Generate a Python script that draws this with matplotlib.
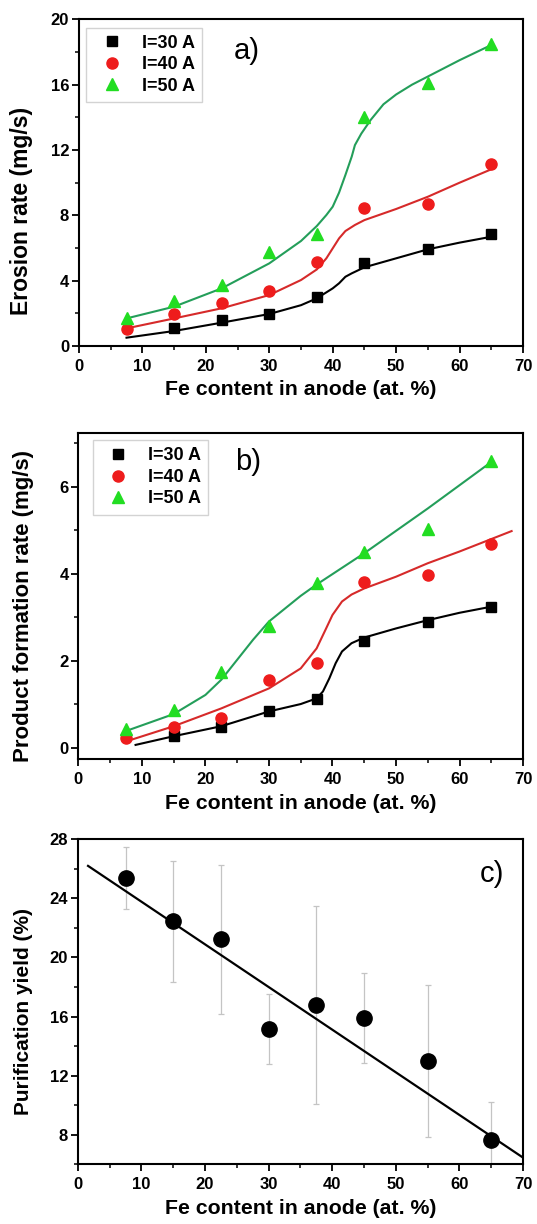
import numpy as np
import matplotlib
matplotlib.use("Agg")
import matplotlib.pyplot as plt
from matplotlib.ticker import MultipleLocator

plt.rcParams['font.family'] = ['Liberation Sans', 'DejaVu Sans']
plt.rcParams['font.weight'] = 'bold'

# Fe content (at. %)
fe = [7.5, 15, 22.5, 30, 37.5, 45, 55, 65]
fe_30 = [15, 22.5, 30, 37.5, 45, 55, 65]

# a) erosion rate (mg/s)
er_30 = [1.08, 1.59, 1.94, 2.98, 5.06, 5.92, 6.86]
er_40 = [1.02, 1.94, 2.61, 3.39, 5.16, 8.43, 8.67, 11.14]
er_50 = [1.69, 2.76, 3.73, 5.78, 6.86, 14.0, 16.12, 18.49]

# a) fitted curves
ca_x30 = [7.5, 15, 22.5, 30, 35, 37.5, 40, 41, 42, 43, 45, 50, 55, 60, 65]
ca_y30 = [0.51, 0.92, 1.43, 1.96, 2.5, 2.92, 3.53, 3.84, 4.24, 4.45, 4.82, 5.37, 5.92, 6.33, 6.69]
ca_x40 = [7.5, 15, 22.5, 30, 35, 37.5, 39, 40, 41, 42, 43.5, 45, 50, 55, 60, 65]
ca_y40 = [1.08, 1.69, 2.31, 3.12, 4.04, 4.69, 5.37, 5.98, 6.59, 7.04, 7.41, 7.71, 8.39, 9.14, 10.0, 10.82]
ca_x50 = [7.5, 15, 22.5, 30, 35, 37.5, 39, 40, 41, 42, 43, 43.5, 44.5, 46, 48, 50, 52.5, 55, 60, 65]
ca_y50 = [1.69, 2.41, 3.53, 5.06, 6.43, 7.35, 8.02, 8.53, 9.39, 10.47, 11.6, 12.3, 13.0, 13.85, 14.8, 15.4, 16.0, 16.5, 17.5, 18.43]

# b) product formation rate (mg/s)
pf_30 = [0.27, 0.48, 0.85, 1.12, 2.45, 2.89, 3.23]
pf_40 = [0.21, 0.48, 0.67, 1.56, 1.95, 3.80, 3.98, 4.69]
pf_50 = [0.42, 0.87, 1.73, 2.80, 3.78, 4.49, 5.03, 6.59]

cb_x30 = [9.0, 15, 22.5, 30, 35, 37.5, 38.5, 39.5, 40.5, 41.5, 43, 45, 50, 55, 60, 65]
cb_y30 = [0.06, 0.26, 0.49, 0.83, 1.0, 1.13, 1.29, 1.59, 1.94, 2.21, 2.40, 2.53, 2.74, 2.93, 3.10, 3.24]
cb_x40 = [7.5, 15, 22.5, 30, 35, 37.5, 39, 40, 41.5, 43, 45, 50, 55, 60, 68.2]
cb_y40 = [0.14, 0.49, 0.90, 1.36, 1.82, 2.28, 2.74, 3.05, 3.36, 3.52, 3.66, 3.93, 4.24, 4.51, 4.98]
cb_x50 = [7.5, 15, 20, 22.5, 25, 27.5, 30, 35, 37.5, 45, 55, 65]
cb_y50 = [0.38, 0.77, 1.21, 1.56, 2.02, 2.48, 2.90, 3.49, 3.75, 4.47, 5.50, 6.57]

# c) purification yield (%)
py = [25.38, 22.46, 21.23, 15.13, 16.81, 15.91, 12.98, 7.62]
py_err = [2.13, 4.1, 5.05, 2.37, 6.7, 3.03, 5.15, 2.58]
fit_x = [1.6, 70]
fit_y = [26.2, 6.45]

labels = ['I=30 A', 'I=40 A', 'I=50 A']
red = '#ee1c1c'
green_m = '#22dd22'
green_l = '#249e5a'
red_l = '#d62a2a'

fig = plt.figure(figsize=(5.37, 12.24), dpi=100)
ax_a = fig.add_axes([0.147, 0.7173, 0.827, 0.2669])
ax_b = fig.add_axes([0.146, 0.3797, 0.828, 0.2663])
ax_c = fig.add_axes([0.145, 0.0488, 0.829, 0.2655])


def style(ax, ymaj, ymin):
    ax.set_xlim(0, 70)
    ax.xaxis.set_major_locator(MultipleLocator(10))
    ax.xaxis.set_minor_locator(MultipleLocator(5))
    ax.yaxis.set_major_locator(MultipleLocator(ymaj))
    ax.yaxis.set_minor_locator(MultipleLocator(ymin))
    ax.tick_params(which='major', direction='out', length=5, width=1.3, labelsize=12)
    ax.tick_params(axis='x', which='major', pad=4)
    ax.tick_params(axis='y', which='major', pad=2)
    ax.tick_params(which='minor', direction='out', length=3, width=1.1)
    for s in ax.spines.values():
        s.set_linewidth(1.5)
    for t in ax.get_xticklabels() + ax.get_yticklabels():
        t.set_fontweight('bold')
    ax.set_xlabel('Fe content in anode (at. %)', fontsize=15.3, fontweight='bold', labelpad=5)


def legend(ax, loc):
    leg = ax.legend(loc='upper left', bbox_to_anchor=loc, frameon=True, fancybox=False,
                    edgecolor='#c8c8c8', fontsize=13, handletextpad=0.65, borderpad=0.4,
                    labelspacing=0.25, handlelength=2.0, borderaxespad=0)
    leg.get_frame().set_linewidth(1.0)
    for t in leg.get_texts():
        t.set_fontweight('bold')


# a)
ax_a.plot(ca_x30, ca_y30, color='black', lw=1.5)
ax_a.plot(ca_x40, ca_y40, color=red_l, lw=1.5)
ax_a.plot(ca_x50, ca_y50, color=green_l, lw=1.5)
ax_a.plot(fe_30, er_30, 's', color='black', ms=7, label=labels[0])
ax_a.plot(fe, er_40, 'o', color=red, ms=8, label=labels[1])
ax_a.plot(fe, er_50, '^', color=green_m, ms=9, label=labels[2])
ax_a.set_ylim(0, 20)
style(ax_a, 4, 2)
ax_a.set_ylabel('Erosion rate (mg/s)', fontsize=16.5, fontweight='bold')
ax_a.yaxis.set_label_coords(-0.104, 0.413)
legend(ax_a, (0.017, 0.975))
ax_a.text(0.377, 0.904, 'a)', transform=ax_a.transAxes, fontsize=21, fontweight='normal',
          ha='center', va='center')

# b)
ax_b.plot(cb_x30, cb_y30, color='black', lw=1.5)
ax_b.plot(cb_x40, cb_y40, color=red_l, lw=1.5)
ax_b.plot(cb_x50, cb_y50, color=green_l, lw=1.5)
ax_b.plot(fe_30, pf_30, 's', color='black', ms=7, label=labels[0])
ax_b.plot(fe, pf_40, 'o', color=red, ms=8, label=labels[1])
ax_b.plot(fe, pf_50, '^', color=green_m, ms=9, label=labels[2])
ax_b.set_ylim(-0.27, 7.23)
style(ax_b, 2, 1)
ax_b.set_ylabel('Product formation rate (mg/s)', fontsize=16, fontweight='bold')
ax_b.yaxis.set_label_coords(-0.10, 0.47)
legend(ax_b, (0.032, 0.979))
ax_b.text(0.382, 0.913, 'b)', transform=ax_b.transAxes, fontsize=21, fontweight='normal',
          ha='center', va='center')

# c)
ax_c.errorbar(fe, py, yerr=py_err, fmt='none', ecolor='#c4c4c4', elinewidth=0.9,
              capsize=2, capthick=0.9)
ax_c.plot(fit_x, fit_y, color='black', lw=1.6, clip_on=True)
ax_c.plot(fe, py, 'o', color='black', ms=11)
ax_c.set_ylim(6, 28)
style(ax_c, 4, 2)
ax_c.set_ylabel('Purification yield (%)', fontsize=15, fontweight='bold')
ax_c.yaxis.set_label_coords(-0.10, 0.469)
ax_c.text(0.931, 0.893, 'c)', transform=ax_c.transAxes, fontsize=21, fontweight='normal',
          ha='center', va='center')

fig.savefig('out.png', dpi=100)
